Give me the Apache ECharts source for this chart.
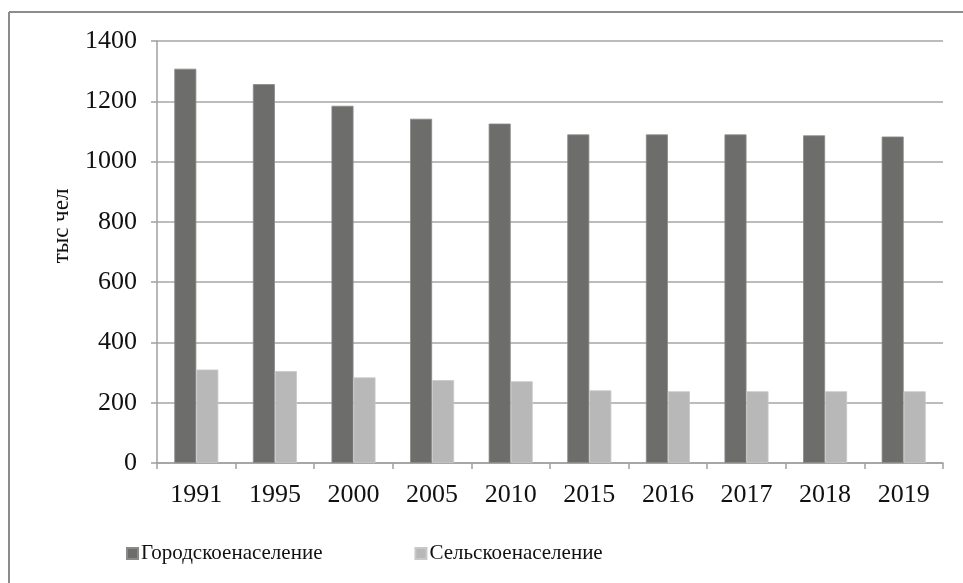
<!DOCTYPE html>
<html><head><meta charset="utf-8">
<script src="https://cdn.jsdelivr.net/npm/echarts@6/dist/echarts.min.js"></script>
<style>html,body{margin:0;padding:0;background:#fff;}#c{width:963px;height:583px;}</style>
</head><body><div id="c"></div>
<script>
const categories = ['1991','1995','2000','2005','2010','2015','2016','2017','2018','2019'];
const urban = [1308, 1257, 1185, 1142, 1126, 1090, 1090, 1090, 1087, 1083];
const rural = [310, 305, 284, 275, 271, 241, 238, 238, 238, 238];
const seriesNames = ['Городскоенаселение', 'Сельскоенаселение'];
const yTicks = {min: 0, max: 1400, interval: 200};
const axisName = 'тыс чел';

const font = '"Liberation Serif", "Times New Roman", serif';
const chart = echarts.init(document.getElementById('c'));
chart.setOption({
  animation: false,
  backgroundColor: '#fff',
  textStyle: {fontFamily: font},
  grid: {left: 157, right: 20, top: 41, bottom: 120},
  legend: {
    left: 121, top: 538, itemWidth: 11, itemHeight: 11, itemGap: 92,
    icon: 'rect',
    textStyle: {fontFamily: font, fontSize: 21, color: '#111', padding: [0,0,0,-2]},
    data: seriesNames
  },
  xAxis: {
    type: 'category', data: categories,
    axisLine: {lineStyle: {color: '#a0a0a0', width: 1.5}},
    axisTick: {show: true, length: 6, lineStyle: {color: '#a0a0a0', width: 1.5}},
    axisLabel: {fontFamily: font, fontSize: 26, color: '#111', margin: 19}
  },
  yAxis: {
    type: 'value', min: yTicks.min, max: yTicks.max, interval: yTicks.interval,
    axisLine: {show: true, lineStyle: {color: '#a0a0a0', width: 1.5}},
    axisTick: {show: true, length: 6, lineStyle: {color: '#a0a0a0', width: 1.5}},
    splitLine: {lineStyle: {color: '#a6a6a6', width: 1.5}},
    axisLabel: {fontFamily: font, fontSize: 26, color: '#111', margin: 20,
                formatter: function (v) { return String(v); }}
  },
  graphic: [
    {type: 'line', shape: {x1: 9, y1: 12, x2: 963, y2: 12}, style: {stroke: '#8c8c8c', lineWidth: 2}},
    {type: 'line', shape: {x1: 9, y1: 12, x2: 9, y2: 583}, style: {stroke: '#8c8c8c', lineWidth: 2}},
    {type: 'text', x: 62, y: 226, rotation: Math.PI/2,
     style: {text: axisName, fontFamily: font, fontSize: 23, fill: '#111', align: 'center', verticalAlign: 'middle'}}
  ],
  series: [
    {name: seriesNames[0], type: 'bar', data: urban, barWidth: 22, barGap: '0%',
     itemStyle: {color: '#6d6d6b', borderColor: '#8a8a88', borderWidth: 0.8}},
    {name: seriesNames[1], type: 'bar', data: rural, barWidth: 22, barGap: '0%',
     itemStyle: {color: '#b8b8b8', borderColor: '#c8c8c8', borderWidth: 0.8}}
  ]
});
</script></body></html>
